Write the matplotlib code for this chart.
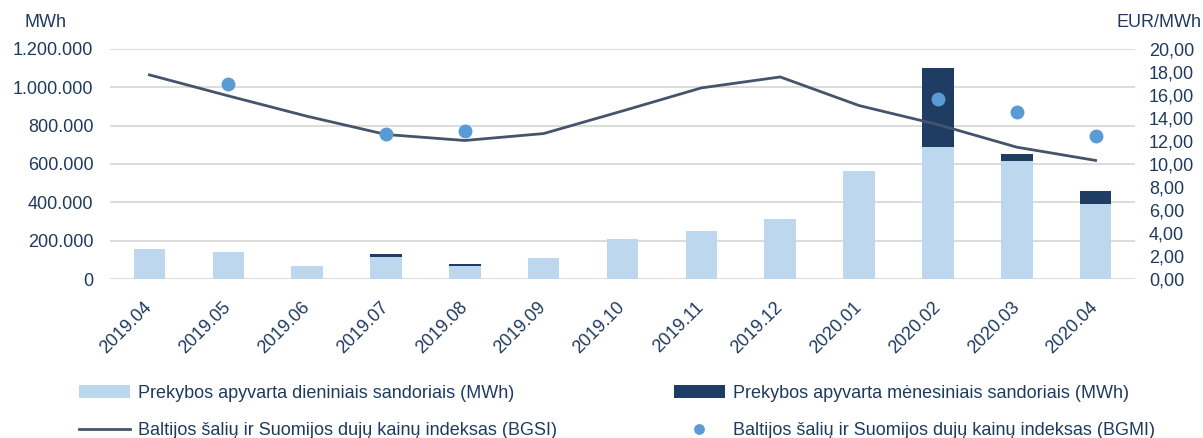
import numpy as np
import matplotlib
matplotlib.use("Agg")
import matplotlib.pyplot as plt
from matplotlib.ticker import FuncFormatter

# data
months = ["2019.04", "2019.05", "2019.06", "2019.07", "2019.08", "2019.09", "2019.10",
          "2019.11", "2019.12", "2020.01", "2020.02", "2020.03", "2020.04"]
daily = [158000, 140000, 71000, 118000, 69000, 110000, 211000,
         249000, 315000, 561000, 689000, 615000, 390000]
monthly = [0, 2000, 0, 14000, 12000, 0, 0,
           0, 0, 0, 412000, 38000, 72000]
bgsi = [17.73, 15.91, 14.14, 12.56, 12.04, 12.64, 14.60,
        16.60, 17.55, 15.07, 13.42, 11.46, 10.31]
bgmi = [np.nan, 16.95, np.nan, 12.56, 12.84, np.nan, np.nan,
        np.nan, np.nan, np.nan, 15.61, 14.55, 12.47]

labels = ["Prekybos apyvarta dieniniais sandoriais (MWh)",
          "Prekybos apyvarta mėnesiniais sandoriais (MWh)",
          "Baltijos šalių ir Suomijos dujų kainų indeksas (BGSI)",
          "Baltijos šalių ir Suomijos dujų kainų indeksas (BGMI)"]

c_light = "#BDD7EE"
c_dark = "#1F3D63"
c_line = "#44546A"
c_dot = "#5B9BD5"
c_text = "#1F3A5F"
c_grid = "#D9D9D9"

plt.rcParams["font.family"] = ["Liberation Sans", "DejaVu Sans"]
fs = 13

W, H = 1203, 438
fig = plt.figure(figsize=(W / 100, H / 100), dpi=100)
ax = fig.add_axes([110 / W, 1 - 279.3 / H, (1135 - 110) / W, (279.3 - 48.7) / H])
ax2 = ax.twinx()

x = np.arange(len(months))
b1 = ax.bar(x, daily, width=0.4, color=c_light, zorder=2)
b2 = ax.bar(x, monthly, width=0.4, bottom=daily, color=c_dark, zorder=2)

ln, = ax2.plot(x, bgsi, color=c_line, lw=2, zorder=3)
dots, = ax2.plot(x, bgmi, ls="none", marker="o", ms=9, color=c_dot, zorder=4)

ax.set_xlim(-0.5, len(months) - 0.5)
ax.set_ylim(0, 1200000)
ax.set_yticks(np.arange(0, 1200001, 200000))
ax.yaxis.set_major_formatter(FuncFormatter(lambda v, p: f"{int(v):,}".replace(",", ".")))
ax2.set_ylim(0, 20)
ax2.set_yticks(np.arange(0, 20.01, 2))
ax2.yaxis.set_major_formatter(FuncFormatter(lambda v, p: f"{v:.2f}".replace(".", ",")))

ax.grid(axis="y", color=c_grid, lw=1.3, zorder=0)
ax.set_axisbelow(True)
for a in (ax, ax2):
    for s in a.spines.values():
        s.set_visible(False)
    a.tick_params(length=0, colors=c_text, labelsize=fs)

ax.tick_params(axis="y", pad=12)
ax2.tick_params(axis="y", pad=10)
ax.set_xticks(x)
ax.set_xticklabels(months, rotation=45, ha="right", va="center", rotation_mode="anchor")
ax.tick_params(axis="x", pad=18)

fig.text(24 / W, 1 - 22.7 / H, "MWh", color=c_text, fontsize=fs, va="center", ha="left")
fig.text(1201 / W, 1 - 22.7 / H, "EUR/MWh", color=c_text, fontsize=fs, va="center", ha="right")

fig.legend([b1, ln, b2, dots], [labels[0], labels[2], labels[1], labels[3]],
           ncol=2, loc="upper left", bbox_to_anchor=(79 / W, 1 - 385 / H),
           frameon=False, fontsize=fs, labelcolor=c_text, borderpad=0,
           handlelength=2.8, handletextpad=0.45, columnspacing=6.5, labelspacing=1.1,
           borderaxespad=0, markerscale=0.75)

fig.savefig("out.png", dpi=100)
